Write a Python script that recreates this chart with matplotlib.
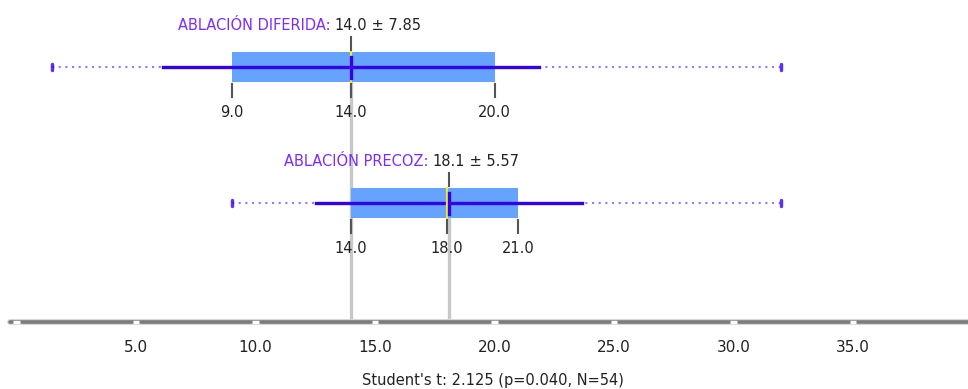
import matplotlib.pyplot as plt
import numpy as np

# data
groups = ["ABLACIÓN DIFERIDA", "ABLACIÓN PRECOZ"]
minimum = [1.5, 9.0]
q1 = [9.0, 14.0]
median = [14.0, 18.0]
q3 = [20.0, 21.0]
maximum = [32.0, 32.0]
mean = [14.0, 18.1]
sd = [7.85, 5.57]
axis_ticks = [5.0, 10.0, 15.0, 20.0, 25.0, 30.0, 35.0]
test_text = "Student's t: 2.125 (p=0.040, N=54)"

box_col = "#66a3ff"
whisk_col = "#3300ee"
dot_col = "#8c7cff"
label_col = "#7a2cff"
text_col = "#222222"
tick_col = "#555555"

fig = plt.figure(figsize=(9.68, 3.89), dpi=100)
ax = fig.add_axes([0, 0, 1, 1])
ax.set_xlim(-0.69, 39.81)
ax.set_ylim(389, 0)  # y in pixel rows
ax.axis("off")

row_y = [67, 203]
half_h = 15
axis_y = 322
fs = 10.5

for i, g in enumerate(groups):
    y = row_y[i]
    # gray line from the mean down to the axis
    ax.plot([mean[i], mean[i]], [y, axis_y], color="#c8c8c8", lw=2.4, zorder=1)
    # dotted range min..max
    ax.plot([minimum[i], maximum[i]], [y, y], color=dot_col, lw=1.5,
            linestyle=(0, (1, 2.2)), zorder=2)
    for v in (minimum[i], maximum[i]):
        ax.plot([v, v], [y - 3, y + 3], color=whisk_col, lw=2.5, alpha=0.8,
                solid_capstyle="round", zorder=3)
    # box q1..q3
    ax.fill_between([q1[i], q3[i]], y - half_h, y + half_h, color=box_col,
                    lw=0, zorder=3)
    # mean +- sd
    ax.plot([mean[i] - sd[i], mean[i] + sd[i]], [y, y], color=whisk_col,
            lw=2.4, zorder=4)
    # median (yellow) and mean (blue)
    ax.plot([median[i], median[i]], [y - half_h, y + half_h], color="#f2ee1a",
            lw=1.6, zorder=5)
    ax.plot([mean[i], mean[i]], [y - 10, y + 11], color=whisk_col, lw=2.4,
            zorder=6)
    # tick above at mean
    ax.plot([mean[i], mean[i]], [y - 30, y - 17], color=tick_col, lw=1.5,
            zorder=5)
    # ticks below at q1, median, q3 with labels
    for v in (q1[i], median[i], q3[i]):
        ax.plot([v, v], [y + 17, y + 30], color=tick_col, lw=1.5, zorder=5)
        ax.text(v, y + 45, f"{v:.1f}", ha="center", va="center", fontsize=fs,
                color=text_col, zorder=6)
    # title: group name, mean, +- sd
    num = ax.text(mean[i], y - 42, f"{mean[i]:.1f}", ha="center", va="center",
                  fontsize=fs, color=text_col, zorder=6)
    ax.annotate(f"{g}: ", xy=(0, 0.5), xycoords=num, ha="right", va="center",
                fontsize=fs, color=label_col)
    ax.annotate(f" ± {sd[i]:.2f}", xy=(1, 0.5), xycoords=num, ha="left",
                va="center", fontsize=fs, color=text_col)

# bottom axis
ax.plot([-0.27, 40.5], [axis_y, axis_y], color="#d4d4d4", lw=4.2,
        solid_capstyle="round", zorder=2)
ax.plot([-0.27, 40.5], [axis_y, axis_y], color="#7c7c7c", lw=2.6,
        solid_capstyle="round", zorder=2)
for m in np.arange(0, 45, 5):
    ax.plot([m - 0.14, m + 0.14], [axis_y, axis_y], color="white", lw=2.4,
            solid_capstyle="butt", zorder=3)
for t in axis_ticks:
    ax.text(t, 347, f"{t:.1f}", ha="center", va="center", fontsize=fs + 0.5,
            color=text_col)

ax.text(19.94, 380, test_text, ha="center", va="center", fontsize=fs,
        color=text_col)

fig.savefig("out.png", dpi=100)
